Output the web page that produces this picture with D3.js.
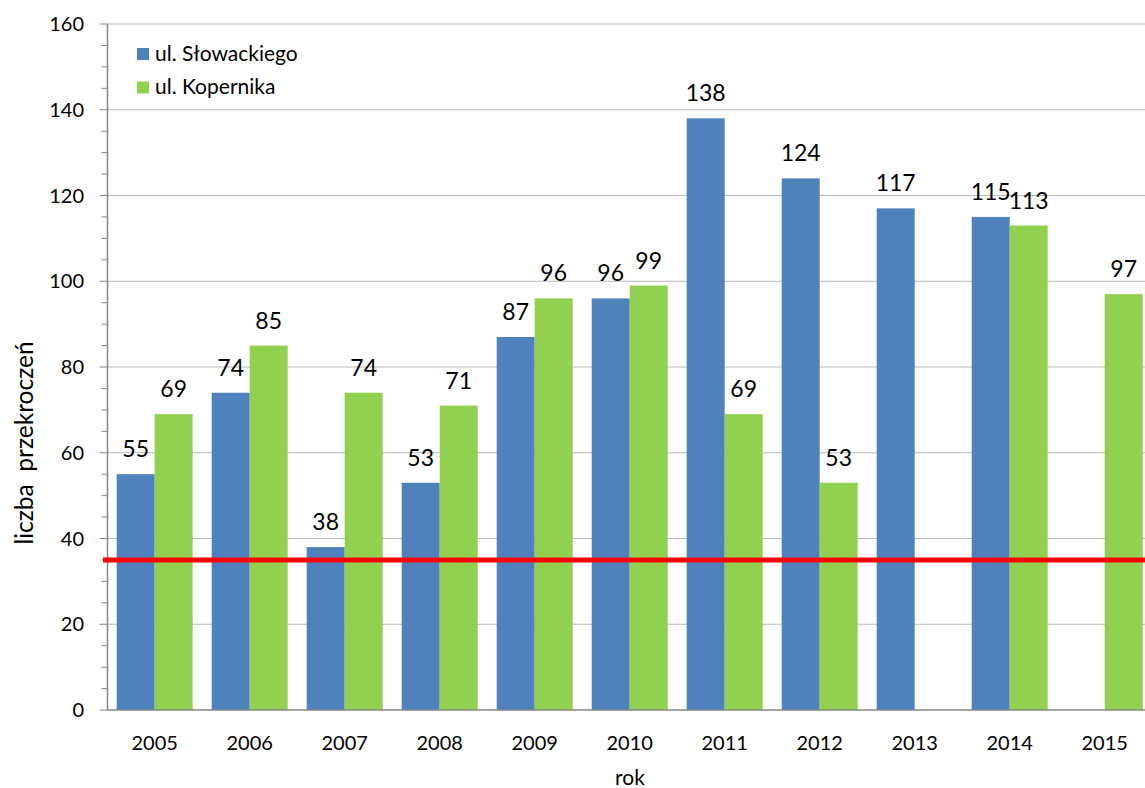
<!DOCTYPE html>
<html>
<head>
<meta charset="utf-8">
<script src="https://cdn.jsdelivr.net/npm/d3@7"></script>
<style>
  body { margin: 0; background: #fff; }
  svg { display: block; font-family: Lato, "Open Sans", sans-serif; }
</style>
</head>
<body>
<script>
var years = ["2005", "2006", "2007", "2008", "2009", "2010", "2011", "2012", "2013", "2014", "2015"];
var slowackiego = [55, 74, 38, 53, 87, 96, 138, 124, 117, 115, null];
var kopernika = [69, 85, 74, 71, 96, 99, 69, 53, null, 113, 97];
var seriesNames = ["ul. Słowackiego", "ul. Kopernika"];
var seriesColors = ["#4f81bd", "#92d050"];
var limit = 35;
var yTicks = [0, 20, 40, 60, 80, 100, 120, 140, 160];

var width = 1145, height = 788;

var svg = d3.select("body").append("svg")
    .attr("width", width)
    .attr("height", height);

var x = d3.scaleBand()
    .domain(years)
    .range([107.2, 1152.2])
    .paddingInner(0.2)
    .paddingOuter(0.1);

var x1 = d3.scaleBand()
    .domain([0, 1])
    .range([0, x.bandwidth()]);

var y = d3.scaleLinear()
    .domain([0, 160])
    .range([710, 24]);

// gridlines
svg.append("g")
  .selectAll("line")
  .data(yTicks.slice(1))
  .enter().append("line")
    .attr("x1", 107).attr("x2", width)
    .attr("y1", function(d) { return y(d); })
    .attr("y2", function(d) { return y(d); })
    .attr("stroke", "#b9b9b9")
    .attr("stroke-width", 1);

var rows = years.map(function(yr, i) { return {year: yr, vals: [slowackiego[i], kopernika[i]]}; });

var groups = svg.append("g")
  .selectAll("g")
  .data(rows)
  .enter().append("g")
    .attr("transform", function(d) { return "translate(" + x(d.year) + ",0)"; });

var bars = groups.selectAll("g")
  .data(function(d) { return d.vals.map(function(v, k) { return {v: v, k: k}; }).filter(function(e) { return e.v != null; }); })
  .enter().append("g");

bars.append("rect")
    .attr("x", function(d) { return x1(d.k); })
    .attr("width", x1.bandwidth())
    .attr("y", function(d) { return y(d.v); })
    .attr("height", function(d) { return y(0) - y(d.v); })
    .attr("fill", function(d) { return seriesColors[d.k]; });

bars.append("text")
    .attr("x", function(d) { return x1(d.k) + x1.bandwidth() / 2; })
    .attr("y", function(d) { return y(d.v) - 17; })
    .attr("text-anchor", "middle")
    .attr("font-size", 23)
    .attr("fill", "#000")
    .text(function(d) { return d.v; });

// y axis
var yAxis = svg.append("g")
    .attr("transform", "translate(107.5,0)");

yAxis.append("line")
    .attr("y1", y(0)).attr("y2", y(160))
    .attr("stroke", "#868686").attr("stroke-width", 1.5);

yAxis.selectAll(".minor")
  .data(d3.range(0, 161, 5))
  .enter().append("line")
    .attr("x1", function(d) { return d % 20 === 0 ? -8 : -6; })
    .attr("x2", 0)
    .attr("y1", function(d) { return y(d); })
    .attr("y2", function(d) { return y(d); })
    .attr("stroke", "#868686").attr("stroke-width", 1);

yAxis.selectAll("text")
  .data(yTicks)
  .enter().append("text")
    .attr("x", -23.5)
    .attr("y", function(d) { return y(d); })
    .attr("dy", "0.36em")
    .attr("text-anchor", "end")
    .attr("font-size", 20)
    .text(function(d) { return d; });

// x axis
svg.append("line")
    .attr("x1", 107).attr("x2", width)
    .attr("y1", y(0)).attr("y2", y(0))
    .attr("stroke", "#868686").attr("stroke-width", 1.5);

svg.append("g")
  .selectAll("text")
  .data(years)
  .enter().append("text")
    .attr("x", function(d) { return x(d) + x.bandwidth() / 2; })
    .attr("y", 750)
    .attr("text-anchor", "middle")
    .attr("font-size", 20)
    .text(function(d) { return d; });

// limit line
svg.append("line")
    .attr("x1", 103).attr("x2", width)
    .attr("y1", y(limit)).attr("y2", y(limit))
    .attr("stroke", "#ff0000").attr("stroke-width", 5);

// axis titles
svg.append("text")
    .attr("x", 630).attr("y", 785)
    .attr("text-anchor", "middle")
    .attr("font-size", 21)
    .text("rok");

svg.append("text")
    .attr("transform", "translate(32.5,443) rotate(-90)")
    .attr("text-anchor", "middle")
    .attr("font-size", 24.5)
    .attr("xml:space", "preserve")
    .style("white-space", "pre")
    .text("liczba  przekroczeń");

// legend
var legend = svg.append("g")
  .selectAll("g")
  .data(seriesNames)
  .enter().append("g")
    .attr("transform", function(d, i) { return "translate(137," + (60.5 + i * 33.5) + ")"; });

legend.append("rect")
    .attr("x", 0).attr("y", -12.5)
    .attr("width", 12).attr("height", 12)
    .attr("fill", function(d, i) { return seriesColors[i]; });

legend.append("text")
    .attr("x", 18)
    .attr("font-size", 21)
    .text(function(d) { return d; });
</script>
</body>
</html>
